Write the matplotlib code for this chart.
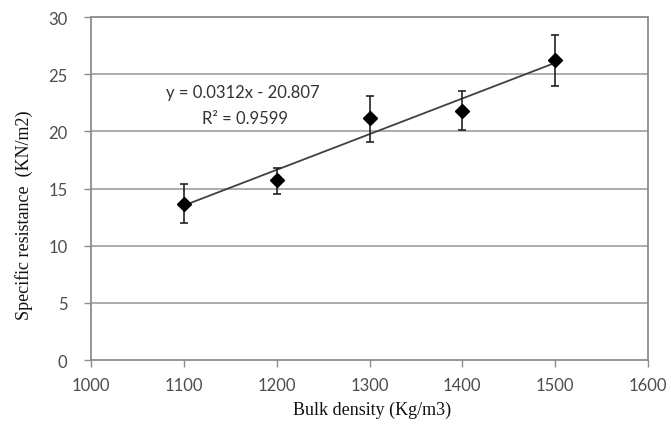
import matplotlib.pyplot as plt
import numpy as np

# values
density = [1100, 1200, 1300, 1400, 1500]
resistance = [13.65, 15.7, 21.2, 21.8, 26.2]
err_hi = [15.4, 16.8, 23.1, 23.5, 28.45]
err_lo = [12.0, 14.5, 19.1, 20.15, 23.95]
slope, intercept = 0.0312, -20.807
r2 = 0.9599
xticks = [1000, 1100, 1200, 1300, 1400, 1500, 1600]
yticks = [0, 5, 10, 15, 20, 25, 30]

x = np.array(density)
y = np.array(resistance)
yerr = [y - np.array(err_lo), np.array(err_hi) - y]

fig = plt.figure(figsize=(6.71, 4.35), dpi=100)
ax = fig.add_axes([91/671, 1 - 361/435, 557/671, 343/435])

grid_c = '#a6a6a6'
for v in yticks[1:]:
    ax.axhline(v, color=grid_c, lw=1.3, zorder=0)

# linear trend line
tx = np.array([density[0], density[-1]])
ax.plot(tx, slope * tx + intercept, color='#404040', lw=1.3, zorder=2)

ax.errorbar(x, y, yerr=yerr, fmt='D', color='black', ms=7,
            ecolor='#222222', elinewidth=1.2, capsize=3, capthick=1.2, zorder=3)

ax.set_xlim(1000, 1600)
ax.set_ylim(0, 30)
ax.set_xticks(xticks)
ax.set_yticks(yticks)

tick_font = dict(family=['Lato', 'DejaVu Sans'], size=12, color='#4d4d4d')
ax.set_xticklabels([str(t) for t in xticks], **tick_font)
ax.set_yticklabels([str(t) for t in yticks], **tick_font)
ax.tick_params(axis='both', direction='out', length=5, width=1, color='#8c8c8c')
ax.tick_params(axis='x', pad=7)
ax.tick_params(axis='y', pad=12)

for s in ['left', 'right', 'bottom', 'top']:
    ax.spines[s].set_color('#8c8c8c')
    ax.spines[s].set_linewidth(1.3)

# trend line label
eq_font = dict(family=['Lato', 'DejaVu Sans'], size=12, color='#333333', ha='center', va='center')
ax.text(1000 + (243 - 91) / 557 * 600, 30 - (93 - 18) / 343 * 30,
        f'y = {slope}x - {abs(intercept)}', **eq_font)
ax.text(1000 + (245 - 91) / 557 * 600, 30 - (119 - 18) / 343 * 30,
        f'R² = {r2}', **eq_font)

serif = ['Liberation Serif', 'DejaVu Serif']
fig.text(372/671, 1 - 410/435, 'Bulk density (Kg/m3)', family=serif, size=13,
         ha='center', va='center', color='#111111')
fig.text(24/671, 1 - 215/435, 'Specific resistance  (KN/m2)', family=serif, size=13,
         ha='center', va='center', rotation=90, color='#111111')

fig.savefig('out.png', dpi=100)
